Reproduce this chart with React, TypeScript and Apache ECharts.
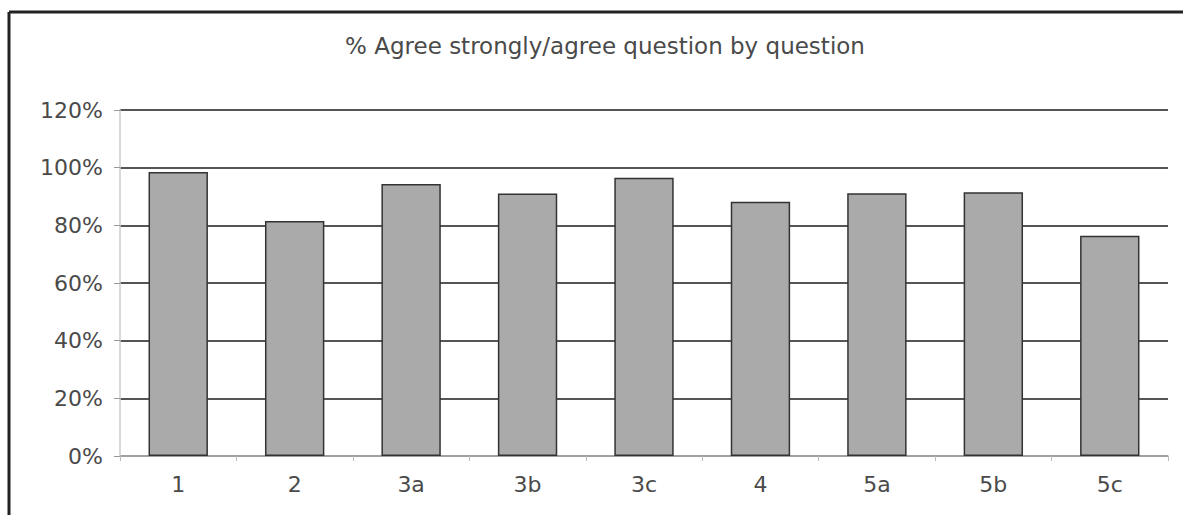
import React, { useEffect, useRef } from "react";
import * as echarts from "echarts";

const categories = ["1", "2", "3a", "3b", "3c", "4", "5a", "5b", "5c"];
const agreeValues = [98.5, 81.5, 94.3, 91, 96.5, 88.2, 91.1, 91.5, 76.4];
const titleText = "% Agree strongly/agree question by question";

const FONT = "DejaVu Sans, Verdana, sans-serif";

export default function App() {
  const ref = useRef<HTMLDivElement>(null);
  useEffect(() => {
    if (!ref.current) return;
    const chart = echarts.init(ref.current, undefined, { renderer: "svg" });
    chart.setOption({
      animation: false,
      backgroundColor: "#ffffff",
      title: {
        text: titleText,
        left: 600,
        textAlign: "center",
        top: 29,
        textStyle: { fontFamily: FONT, fontSize: 23, fontWeight: "normal", color: "#4a4a4a" },
      },
      grid: { left: 120, right: 15, top: 110, bottom: 59 },
      xAxis: {
        type: "category",
        data: categories,
        axisLine: { lineStyle: { color: "#bbb", width: 1.5 } },
        axisTick: { show: true, lineStyle: { color: "#bbb" }, length: 5 },
        axisLabel: { fontFamily: FONT, fontSize: 22, color: "#4a4a4a", margin: 17 },
      },
      yAxis: {
        type: "value",
        min: 0,
        max: 120,
        interval: 20,
        axisLine: { show: true, lineStyle: { color: "#ccc", width: 1.5 } },
        axisTick: { show: true, length: 6, lineStyle: { color: "#999" } },
        axisLabel: { formatter: "{value}%", fontFamily: FONT, fontSize: 22, color: "#4a4a4a", margin: 17 },
        splitLine: { lineStyle: { color: "#555", width: 2 } },
      },
      series: [
        {
          type: "bar",
          data: agreeValues,
          barWidth: "51%",
          itemStyle: { color: "#aaaaaa", borderColor: "#333", borderWidth: 1.5 },
          z: 3,
        },
      ],
      graphic: [
        { type: "line", shape: { x1: 9, y1: 12, x2: 1183, y2: 12 }, style: { stroke: "#222", lineWidth: 3 } },
        { type: "line", shape: { x1: 9, y1: 12, x2: 9, y2: 515 }, style: { stroke: "#222", lineWidth: 3 } },
      ],
    });
    return () => chart.dispose();
  }, []);
  return <div ref={ref} style={{ position: "fixed", left: 0, top: 0, width: 1183, height: 515 }} />;
}
